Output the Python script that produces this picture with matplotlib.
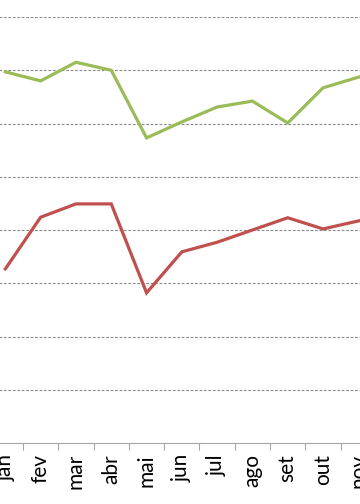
import matplotlib
matplotlib.use("Agg")
import matplotlib.pyplot as plt
import numpy as np

months = ["jan", "fev", "mar", "abr", "mai", "jun", "jul", "ago", "set", "out", "nov", "dez"]
green = [69.7, 68.0, 71.5, 70.0, 57.3, 60.3, 63.1, 64.2, 60.1, 66.7, 68.7, 70.0]
red = [32.7, 42.4, 44.9, 44.9, 28.2, 35.9, 37.7, 40.0, 42.3, 40.2, 41.7, 43.0]

W, H = 360, 504
fig = plt.figure(figsize=(W / 100, H / 100), dpi=100)
# plot area partly outside the visible figure (cropped chart)
left_px, right_px = -12.3, 411.3
bottom_px, top_px = 443, 17
ax = fig.add_axes([left_px / W, (H - bottom_px) / H, (right_px - left_px) / W, (bottom_px - top_px) / H])

x = np.arange(len(months))
ax.plot(x, green, color="#9BBB59", lw=2.3, solid_joinstyle="miter", clip_on=False)
ax.plot(x, red, color="#C0504D", lw=2.3, solid_joinstyle="miter", clip_on=False)

ax.set_xlim(-0.5, len(months) - 0.5)
ax.set_ylim(0, 80)
ax.set_yticks(np.arange(10, 81, 10))
ax.yaxis.grid(True, color="#8c8c8c", linestyle=(0, (2.5, 1.5)), lw=0.8)
ax.tick_params(axis="y", left=False, labelleft=False)

ax.set_xticks(np.arange(-0.5, len(months), 1))
ax.set_xticklabels([])
ax.set_xticks(x, minor=True)
ax.set_xticklabels(months, minor=True, rotation=90, fontsize=15, family="Lato", color="#000000")
ax.tick_params(axis="x", which="major", length=5, color="#a6a6a6", width=0.8, direction="out")
ax.tick_params(axis="x", which="minor", length=0, pad=8)

for s in ["top", "right", "left"]:
    ax.spines[s].set_visible(False)
ax.spines["bottom"].set_color("#a6a6a6")
ax.spines["bottom"].set_linewidth(0.8)

fig.savefig("out.png", dpi=100)
